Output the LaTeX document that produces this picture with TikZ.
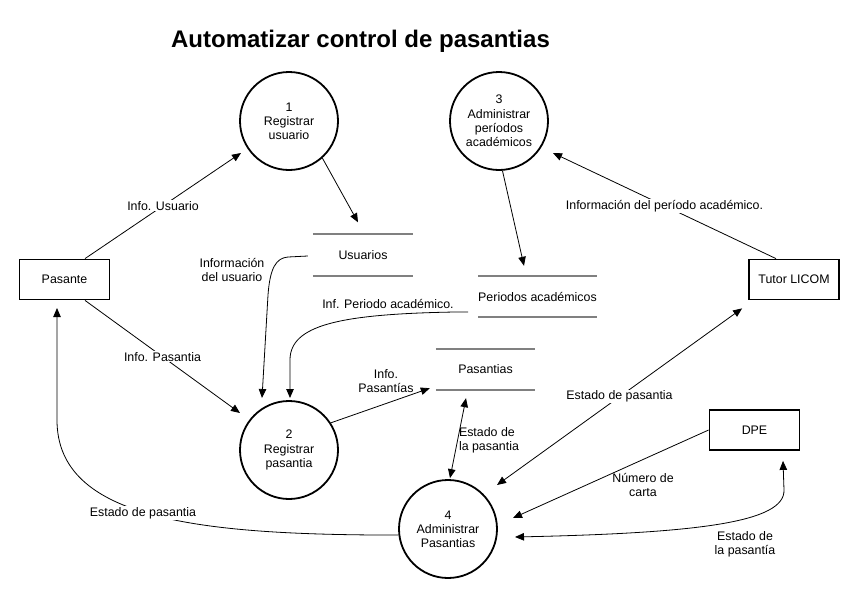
\documentclass[tikz,border=0pt]{standalone}
\usepackage{fontspec}
\setmainfont{Liberation Sans}
\usetikzlibrary{arrows.meta,calc}
\definecolor{storegray}{HTML}{808080}
\begin{document}
\begin{tikzpicture}[x=1pt,y=-1pt,
  font=\fontsize{12.4}{14.2}\selectfont,
  proc/.style={circle,draw,line width=1.8pt,minimum size=98pt,inner sep=0pt,align=center},
  ext/.style={rectangle,draw,line width=1.8pt,minimum width=90pt,minimum height=40pt,inner sep=0pt},
  store/.style={minimum height=41pt,inner sep=0pt},
  sline/.style={draw=storegray,line width=1.8pt},
  flow/.style={line width=0.8pt,-{Triangle[length=9pt,width=7.5pt]}},
  bflow/.style={line width=0.8pt,{Triangle[length=9pt,width=7.5pt]}-{Triangle[length=9pt,width=7.5pt]}},
  lab/.style={fill=white,inner sep=1pt,align=center},
  plainlab/.style={inner sep=1pt,align=center},
  ]
\useasboundingbox (0,0) rectangle (860,600);

% title
\node[anchor=base] (title) at (360.5,47) {\fontsize{24}{28}\selectfont\bfseries Automatizar control de pasantias};

% processes
\node[proc] (c1) at (289,121) {1\\Registrar\\usuario};
\node[proc] (c3) at (499,121) {3\\Administrar\\períodos\\académicos};
\node[proc] (c2) at (289,450) {2\\Registrar\\pasantia};
\node[proc] (c4) at (448,529) {4\\Administrar\\Pasantias};

% external entities
\node[ext] (p) at (64.5,279.5) {Pasante};
\node[ext] (t) at (794,279.5) {Tutor LICOM};
\node[ext] (d) at (754.5,430) {DPE};

% data stores
\node[store,minimum width=100pt] (u) at (363,255) {Usuarios};
\node[store,minimum width=111pt] (pe) at (537.5,296.5) {Periodos académicos};
\node[store,minimum width=99pt] (pa) at (485.5,369.5) {Pasantias};
\foreach \s in {u,pe,pa}{
  \draw[sline] (\s.north west) -- (\s.north east);
  \draw[sline] (\s.south west) -- (\s.south east);
}

% coordinates for free ends (arrow tips near processes)
\coordinate (c1in) at (241,153);
\coordinate (c3in) at (553,153);
\coordinate (c2in) at (240,413);
\coordinate (c2a) at (262,398);
\coordinate (c2b) at (290,398);
\coordinate (c4t) at (497,485);
\coordinate (c4d) at (513,518);
\coordinate (c4e) at (515,537);
\coordinate (pasin) at (57,308);

% flows
\draw[flow] ($(p.north)+(20.5,0)$) -- (c1in) node[lab,pos=0.5] {Info. Usuario};
\draw[flow] (c1.-48) -- ($(u.north)+(-5,-12)$);
\draw[flow] (c3.-86) -- ($(pe.north)+(-13.5,-10)$);
\draw[flow] ($(t.north)+(-18,0)$) -- (c3in) node[lab,pos=0.5] {Información del período académico.};
\draw[flow] ($(p.south)+(20.5,0)$) -- (c2in) node[lab,pos=0.5] {Info. Pasantia};

\draw[flow] ($(u.west)+(-5,1)$) -- (288,257) .. controls (276,258) and (270,268) .. (268,295) -- (c2a);
\node[plainlab] (lu) at (232,270) {Información\\del usuario};

\draw[flow] ($(pe.west)+(-10,15.5)$) -- (455,312) .. controls (340,314) and (290,325) .. (290,360) -- (c2b);
\node[lab] (lpe) at (388,304) {Inf. Periodo académico.};

\draw[flow] (c2.33) -- ($(pa.south west)+(-6,-2)$);
\node[plainlab] (lpa) at (386,381) {Info.\\Pasantías};

\draw[bflow] ($(pa.south)+(-19.5,8)$) -- ($(c4.north)+(2,-1)$);
\node[plainlab,align=left] (lep) at (489,440) {Estado de\\la pasantia};

\draw[bflow] ($(t.south west)+(-6,8)$) -- (c4t) node[lab,pos=0.5] {Estado de pasantia};

\draw[flow] (d.west) -- (c4d);
\node[plainlab] (lnc) at (643,485) {Número de\\carta};

\draw[bflow] (c4e) .. controls (700,533) and (785,522) .. (784,490) -- ($(d.south)+(28.5,10)$);
\node[plainlab] (lep2) at (745,544) {Estado de\\la pasantía};

\draw[flow] (c4.187) .. controls (200,535) and (57,520) .. (57,420) -- (pasin);
\node[lab] (lep3) at (143,513) {Estado de pasantia};

\end{tikzpicture}
\end{document}
